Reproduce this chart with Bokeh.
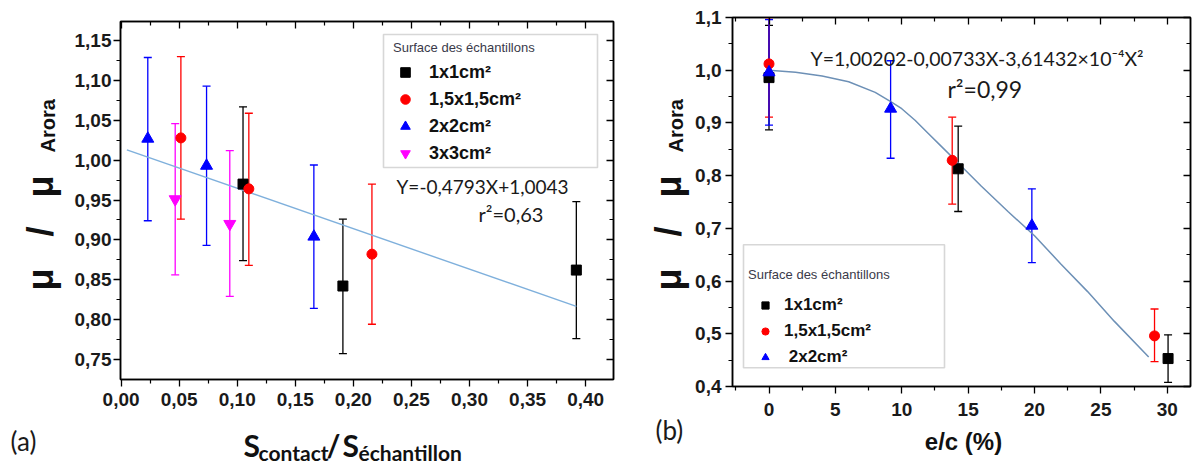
import math
from bokeh.plotting import figure
from bokeh.models import (ColumnDataSource, Whisker, TeeHead, Label, Legend, LegendItem,
                          LinearAxis, FixedTicker, CustomJSTickFormatter, BoxAnnotation, Range1d)
from bokeh.layouts import row, column
from bokeh.embed import file_html
from bokeh.resources import INLINE

# ---------------- data: panel (a) ----------------
a_xticks = [0.00, 0.05, 0.10, 0.15, 0.20, 0.25, 0.30, 0.35, 0.40]
a_xminor = [0.025, 0.075, 0.125, 0.175, 0.225, 0.275, 0.325, 0.375]
a_yticks = [0.75, 0.80, 0.85, 0.90, 0.95, 1.00, 1.05, 1.10, 1.15]
a_yminor = [0.775, 0.825, 0.875, 0.925, 0.975, 1.025, 1.075, 1.125]

a_sq_x = [0.105, 0.191, 0.392]
a_sq_y = [0.970, 0.842, 0.862]
a_sq_lo = [0.874, 0.757, 0.776]
a_sq_hi = [1.067, 0.926, 0.948]

a_ci_x = [0.0515, 0.110, 0.216]
a_ci_y = [1.028, 0.964, 0.882]
a_ci_lo = [0.926, 0.868, 0.794]
a_ci_hi = [1.130, 1.059, 0.970]

a_tr_x = [0.023, 0.0736, 0.166]
a_tr_y = [1.027, 0.993, 0.904]
a_tr_lo = [0.924, 0.893, 0.814]
a_tr_hi = [1.129, 1.093, 0.994]

a_it_x = [0.0466, 0.0936]
a_it_y = [0.951, 0.920]
a_it_lo = [0.856, 0.829]
a_it_hi = [1.046, 1.012]

a_fit_x = [0.005, 0.392]
a_fit_y = [1.013, 0.8165]

# ---------------- data: panel (b) ----------------
b_xticks = [0, 5, 10, 15, 20, 25, 30]
b_xminor = [-2.5, 2.5, 7.5, 12.5, 17.5, 22.5, 27.5]
b_yticks = [0.4, 0.5, 0.6, 0.7, 0.8, 0.9, 1.0, 1.1]
b_yminor = [0.45, 0.55, 0.65, 0.75, 0.85, 0.95, 1.05]

b_sq_x = [0.0, 14.25, 30.06]
b_sq_y = [0.986, 0.813, 0.453]
b_sq_lo = [0.887, 0.732, 0.408]
b_sq_hi = [1.085, 0.894, 0.498]

b_ci_x = [0.0, 13.8, 29.04]
b_ci_y = [1.012, 0.829, 0.496]
b_ci_lo = [0.911, 0.746, 0.447]
b_ci_hi = [1.100, 0.911, 0.547]

b_tr_x = [0.0, 9.16, 19.8]
b_tr_y = [0.996, 0.927, 0.705]
b_tr_lo = [0.896, 0.833, 0.635]
b_tr_hi = [1.096, 1.018, 0.775]

b_fit_x = [0, 2, 4, 6, 8, 9.2, 10, 11, 12, 13, 14, 15, 16, 18, 20, 22, 24, 26, 28.6]
b_fit_y = [1.0, 0.996, 0.989, 0.978, 0.958, 0.940, 0.927, 0.905, 0.880, 0.855, 0.830,
           0.805, 0.780, 0.732, 0.686, 0.632, 0.580, 0.524, 0.456]

labels_sizes = ["1x1cm²", "1,5x1,5cm²", "2x2cm²", "3x3cm²"]
legend_title = "Surface des échantillons"

BLACK, RED, BLUE, MAG = "#000000", "#ff0000", "#0000ff", "#ff00ff"
TICK_FONT = "Liberation Sans"
INK = "#111111"


def add_series(p, x, y, lo, hi, color, marker, size):
    src = ColumnDataSource(dict(x=x, y=y, lo=lo, hi=hi))
    w = Whisker(source=src, base="x", upper="hi", lower="lo", line_color=color,
                line_width=1.3, level="underlay",
                upper_head=TeeHead(size=8, line_color=color, line_width=1.3),
                lower_head=TeeHead(size=8, line_color=color, line_width=1.3))
    p.add_layout(w)
    return p.scatter("x", "y", source=src, marker=marker, size=size,
                     fill_color=color, line_color=color)


def inner_axis(ticks, minor):
    return LinearAxis(ticker=FixedTicker(ticks=ticks, minor_ticks=minor),
                      major_label_text_font_size="0px", major_label_text_color=None,
                      major_label_standoff=0,
                      major_tick_in=7, major_tick_out=0, minor_tick_in=4, minor_tick_out=0,
                      axis_line_color="black", axis_line_width=1.5,
                      major_tick_line_width=1.3, minor_tick_line_width=1.2)


def style_axes(p, xt, xm, yt, ym, xfmt, yfmt, xstand, ystand):
    xa = p.xaxis[0]
    ya = p.yaxis[0]
    xa.ticker = FixedTicker(ticks=xt, minor_ticks=xm)
    ya.ticker = FixedTicker(ticks=yt, minor_ticks=ym)
    xa.formatter = CustomJSTickFormatter(code=xfmt)
    ya.formatter = CustomJSTickFormatter(code=yfmt)
    for ax, st in ((xa, xstand), (ya, ystand)):
        ax.axis_line_color = "black"
        ax.axis_line_width = 1.5
        ax.major_tick_line_color = "black"
        ax.minor_tick_line_color = "black"
        ax.major_tick_line_width = 1.3
        ax.minor_tick_line_width = 1.2
        ax.major_tick_in = 0
        ax.minor_tick_in = 0
        ax.major_tick_out = 7
        ax.minor_tick_out = 4
        ax.major_label_text_font = TICK_FONT
        ax.major_label_text_font_style = "bold"
        ax.major_label_text_font_size = "19px"
        ax.major_label_text_color = "#1a1a1a"
        ax.major_label_standoff = st
    p.add_layout(inner_axis(xt, xm), "above")
    p.add_layout(inner_axis(yt, ym), "right")
    p.xgrid.visible = False
    p.ygrid.visible = False
    p.outline_line_color = "black"
    p.outline_line_width = 1.5


def lab(p, x, y, text, size, font=TICK_FONT, style="normal", align="left",
        baseline="middle", angle=0.0, color="#1a1a1a"):
    p.add_layout(Label(x=x, y=y, x_units="screen", y_units="screen", text=text,
                       text_font=font, text_font_size=size, text_font_style=style,
                       text_align=align, text_baseline=baseline, angle=angle,
                       text_color=color))


def blank(w, h):
    f = figure(width=w, height=h, output_backend="svg", toolbar_location=None,
               x_axis_type=None, y_axis_type=None, x_range=Range1d(0, 1),
               y_range=Range1d(0, 1), min_border=0, outline_line_color=None,
               background_fill_color="white", border_fill_color="white")
    f.xgrid.visible = False
    f.ygrid.visible = False
    return f


ROT = math.pi / 2

# ---------------- panel (a) ----------------
pa = figure(width=560, height=412, output_backend="svg", toolbar_location=None,
            x_range=Range1d(-0.0005, 0.424), y_range=Range1d(0.7246, 1.1742),
            min_border_left=50, min_border_right=17, min_border_top=21,
            min_border_bottom=33, background_fill_color="white",
            border_fill_color="white")
style_axes(pa, a_xticks, a_xminor, a_yticks, a_yminor,
           "return tick.toFixed(2).replace('.', ',')",
           "return tick.toFixed(2).replace('.', ',')", 6, 2)

pa.line(a_fit_x, a_fit_y, line_color="#7fb0dc", line_width=1.4)
ra1 = add_series(pa, a_sq_x, a_sq_y, a_sq_lo, a_sq_hi, BLACK, "square", 10)
ra2 = add_series(pa, a_ci_x, a_ci_y, a_ci_lo, a_ci_hi, RED, "circle", 10)
ra3 = add_series(pa, a_tr_x, a_tr_y, a_tr_lo, a_tr_hi, BLUE, "triangle", 12)
ra4 = add_series(pa, a_it_x, a_it_y, a_it_lo, a_it_hi, MAG, "inverted_triangle", 12)

pa.add_layout(BoxAnnotation(left=263, right=477, bottom=212, top=345,
                            left_units="screen", right_units="screen",
                            bottom_units="screen", top_units="screen",
                            fill_alpha=0, line_color="#7a7a7a", line_width=1.6))
leg_a = Legend(items=[LegendItem(label=labels_sizes[0], renderers=[ra1]),
                      LegendItem(label=labels_sizes[1], renderers=[ra2]),
                      LegendItem(label=labels_sizes[2], renderers=[ra3]),
                      LegendItem(label=labels_sizes[3], renderers=[ra4])],
               location=(273, 214), title=legend_title,
               title_text_font=TICK_FONT, title_text_font_size="13px",
               title_text_font_style="normal", title_text_color="#3a3a4a",
               title_standoff=5, label_text_font=TICK_FONT,
               label_text_font_style="bold", label_text_font_size="18px",
               label_text_color=INK,
               glyph_width=24, glyph_height=24, label_height=20, label_standoff=12,
               spacing=3, padding=6, margin=0, border_line_color=None,
               background_fill_alpha=0)
pa.add_layout(leg_a)

lab(pa, 276, 193, "Y=-0,4793X+1,0043", "19px", font="Lato")
lab(pa, 358, 166, "r²=0,63", "20px", font="Lato")

# y label of (a) and "(a)"
ya_fig = blank(70, 463)
lab(ya_fig, 40, 173, "μ", "36px", style="bold", angle=ROT, color=INK)
lab(ya_fig, 40, 227, "/", "36px", style="bold", angle=ROT, color=INK)
lab(ya_fig, 40, 266, "μ", "36px", style="bold", angle=ROT, color=INK)
lab(ya_fig, 47, 311, "Arora", "20px", style="bold", angle=ROT, color=INK)
lab(ya_fig, 10, 23, "(a)", "26px", font="Lato")

# x label of (a)  (this figure's frame is aligned with the frame of panel (a))
xa_fig = blank(560, 51)
lab(xa_fig, 123, 19, "S", "30px", font="Lato", style="bold", color=INK)
lab(xa_fig, 138, 11, "contact", "21px", font="Lato", style="bold", color=INK)
lab(xa_fig, 206, 19, "/", "30px", font="Lato", style="bold", color=INK)
lab(xa_fig, 222, 19, "S", "30px", font="Lato", style="bold", color=INK)
lab(xa_fig, 238, 11, "échantillon", "21px", font="Lato", style="bold", color=INK)

# ---------------- panel (b) ----------------
pb = figure(width=500, height=430, output_backend="svg", toolbar_location=None,
            x_range=Range1d(-2.75, 31.75), y_range=Range1d(0.4, 1.1),
            min_border_left=38, min_border_right=2, min_border_top=17,
            min_border_bottom=44, background_fill_color="white",
            border_fill_color="white")
style_axes(pb, b_xticks, b_xminor, b_yticks, b_yminor,
           "return tick.toFixed(0)",
           "return tick.toFixed(1).replace('.', ',')", 9, 4)

pb.line(b_fit_x, b_fit_y, line_color="#6d90b6", line_width=1.5)
rb1 = add_series(pb, b_sq_x, b_sq_y, b_sq_lo, b_sq_hi, BLACK, "square", 10)
rb2 = add_series(pb, b_ci_x, b_ci_y, b_ci_lo, b_ci_hi, RED, "circle", 10)
rb3 = add_series(pb, b_tr_x, b_tr_y, b_tr_lo, b_tr_hi, BLUE, "triangle", 12)

pb.add_layout(BoxAnnotation(left=11, right=212, bottom=18.7, top=141.7,
                            left_units="screen", right_units="screen",
                            bottom_units="screen", top_units="screen",
                            fill_alpha=0, line_color="#7a7a7a", line_width=1.6))
leg_b = Legend(items=[LegendItem(label=labels_sizes[0], renderers=[rb1]),
                      LegendItem(label=labels_sizes[1], renderers=[rb2]),
                      LegendItem(label=" " + labels_sizes[2], renderers=[rb3])],
               location=(16, 19), title=legend_title,
               title_text_font=TICK_FONT, title_text_font_size="13px",
               title_text_font_style="normal", title_text_color="#3a3a4a",
               title_standoff=13, label_text_font=TICK_FONT,
               label_text_font_style="bold", label_text_font_size="17px",
               label_text_color=INK,
               glyph_width=34, glyph_height=18, label_height=20, label_standoff=2,
               spacing=6, padding=8, margin=0, border_line_color=None,
               background_fill_alpha=0)
pb.add_layout(leg_b)

lab(pb, 78, 327.7, "Y=1,00202-0,00733X-3,61432×10⁻⁴X²", "19.5px", font="Lato")
lab(pb, 215, 297.7, "r²=0,99", "23px", font="Lato")

# y label of (b) and "(b)"
yb_fig = blank(62, 463)
lab(yb_fig, 38, 173, "μ", "36px", style="bold", angle=ROT, color=INK)
lab(yb_fig, 38, 227, "/", "36px", style="bold", angle=ROT, color=INK)
lab(yb_fig, 38, 266, "μ", "36px", style="bold", angle=ROT, color=INK)
lab(yb_fig, 45, 311, "Arora", "20px", style="bold", angle=ROT, color=INK)
lab(yb_fig, 25, 34, "(b)", "26px", font="Lato")

# x label of (b)  (frame aligned with the frame of panel (b))
xb_fig = blank(500, 33)
lab(xb_fig, 231, 22, "e/c (%)", "24px", style="bold", align="center", color=INK)

layout = row(row(ya_fig, column(pa, xa_fig)), row(yb_fig, column(pb, xb_fig)))
open("out.html", "w").write(file_html(layout, INLINE))
